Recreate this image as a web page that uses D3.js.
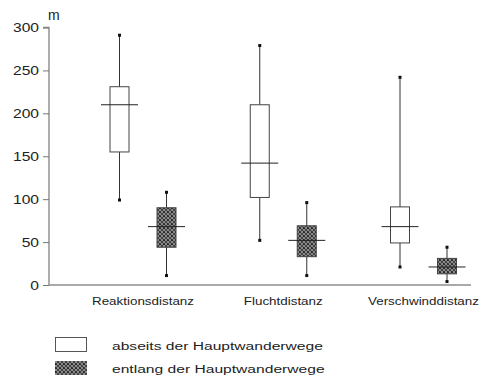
<!DOCTYPE html>
<html><head><meta charset="utf-8">
<script src="https://cdn.jsdelivr.net/npm/d3@7"></script>
<style>html,body{margin:0;padding:0;background:#fff;} svg{display:block;} text{font-family:"Liberation Sans",Arial,Helvetica,sans-serif;fill:#222;}</style>
</head><body>
<script>
const categories = ["Reaktionsdistanz", "Fluchtdistanz", "Verschwinddistanz"];
const seriesNames = ["abseits der Hauptwanderwege", "entlang der Hauptwanderwege"];
// [min, q1, median, q3, max] per category
const abseits = [[99,155,210,231,291],[52,102,142,210,279],[21,49,68,91,242]];
const entlang = [[11,44,68,90,108],[11,33,52,69,96],[4,13,21,31,44]];
const yTicks = [0,50,100,150,200,250,300];
const yUnit = "m";

const W=489,H=377;
const svg=d3.select("body").append("svg").attr("width",W).attr("height",H);
const defs=svg.append("defs");
const pat=defs.append("pattern").attr("id","stip").attr("width",4).attr("height",4).attr("patternUnits","userSpaceOnUse");
pat.append("rect").attr("width",4).attr("height",4).attr("fill","#8a8a8a");
[[0,0],[2,1],[1,2],[3,3],[0,3],[2,2],[3,0],[1,1]].forEach((p,i)=>pat.append("rect").attr("x",p[0]).attr("y",p[1]).attr("width",1).attr("height",1).attr("fill",i%3===0?"#2a2a2a":"#444"));

const y=d3.scaleLinear().domain([0,300]).range([285,27.5]);
const x=d3.scalePoint().domain(categories).range([143,423.5]);
const off=d3.scalePoint().domain(seriesNames).range([-23.5,23.5]);
const boxW=19, medW=37;

// axes
const yAx=svg.append("g").attr("transform","translate(49,0)").call(d3.axisLeft(y).tickValues(yTicks).tickSize(6).tickPadding(4).tickFormat(d3.format("d")));
yAx.select(".domain").attr("stroke","#8c8c8c").attr("stroke-width",1.4).attr("d","M-6,27.5H0V285");
yAx.selectAll(".tick line").attr("stroke","#777");
yAx.selectAll(".tick text").attr("font-size",12.5).attr("fill","#222").attr("transform","scale(1.25,1)").attr("x",-10/1.25);
svg.append("line").attr("x1",49).attr("x2",471).attr("y1",y(0)).attr("y2",y(0)).attr("stroke","#8c8c8c").attr("stroke-width",1.4);
svg.append("text").attr("x",48).attr("y",20).attr("font-size",14).text(yUnit);

// category labels
categories.forEach(c=>{
  svg.append("text").attr("transform",`translate(${x(c)},305) scale(1.22,1)`).attr("text-anchor","middle").attr("font-size",11).text(c);
});

function drawBox(vals,cat,ser,fill){
  const cx=x(cat)+off(ser);
  const g=svg.append("g");
  const [mn,q1,md,q3,mx]=vals;
  g.append("line").attr("x1",cx).attr("x2",cx).attr("y1",y(mx)).attr("y2",y(mn)).attr("stroke","#333").attr("stroke-width",1);
  g.append("rect").attr("x",cx-boxW/2).attr("y",y(q3)).attr("width",boxW).attr("height",y(q1)-y(q3)).attr("fill",fill).attr("stroke","#444").attr("stroke-width",1);
  g.append("line").attr("x1",cx-medW/2).attr("x2",cx+medW/2).attr("y1",y(md)).attr("y2",y(md)).attr("stroke","#222").attr("stroke-width",1);
  [mn,mx].forEach(v=>g.append("rect").attr("x",cx-1.5).attr("y",y(v)-1.5).attr("width",3).attr("height",3).attr("fill","#111"));
}
categories.forEach((c,i)=>{
  drawBox(abseits[i],c,seriesNames[0],"#fff");
  drawBox(entlang[i],c,seriesNames[1],"url(#stip)");
});

// legend
const lg=svg.append("g");
lg.append("rect").attr("x",55.5).attr("y",337.5).attr("width",31).attr("height",14).attr("fill","#fff").attr("stroke","#555");
lg.append("rect").attr("x",55).attr("y",361).attr("width",32).attr("height",14).attr("fill","url(#stip)");
seriesNames.forEach((s,i)=>{
  lg.append("text").attr("transform",`translate(112,${350+i*22.5}) scale(1.42,1)`).attr("font-size",11).text(s);
});
</script>
</body></html>
